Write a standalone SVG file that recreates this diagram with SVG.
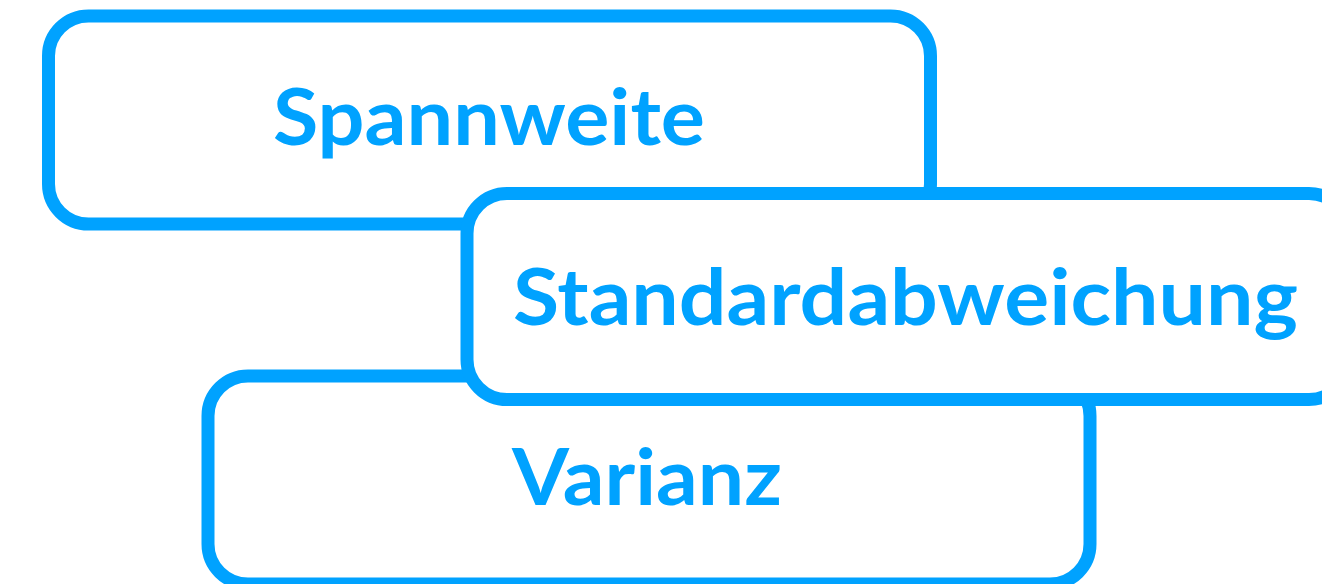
<svg xmlns="http://www.w3.org/2000/svg" width="1322" height="584" viewBox="0 0 1322 584">
  <style>
    .box { fill: #ffffff; stroke: #00A2FF; stroke-width: 13; }
    .lbl { fill: #00A2FF; font-family: Lato, "Open Sans", "Liberation Sans", sans-serif; font-weight: 700; font-size: 78px; text-anchor: middle; }
  </style>
  <rect width="1322" height="584" fill="#ffffff"/>
  <g id="connectors"/>
  <g id="node-spannweite">
    <rect class="box" x="48.5" y="16" width="882" height="208" rx="40" ry="40"/>
    <text class="lbl" x="489" y="145" textLength="432" lengthAdjust="spacingAndGlyphs">Spannweite</text>
  </g>
  <g id="node-varianz">
    <rect class="box" x="208" y="376" width="882" height="208" rx="40" ry="40"/>
    <text class="lbl" x="647" y="505" textLength="270" lengthAdjust="spacingAndGlyphs">Varianz</text>
  </g>
  <g id="node-standardabweichung">
    <rect class="box" x="467" y="193.5" width="882" height="206" rx="40" ry="40"/>
    <text class="lbl" x="905.5" y="325" textLength="785" lengthAdjust="spacingAndGlyphs">Standardabweichung</text>
  </g>
</svg>
